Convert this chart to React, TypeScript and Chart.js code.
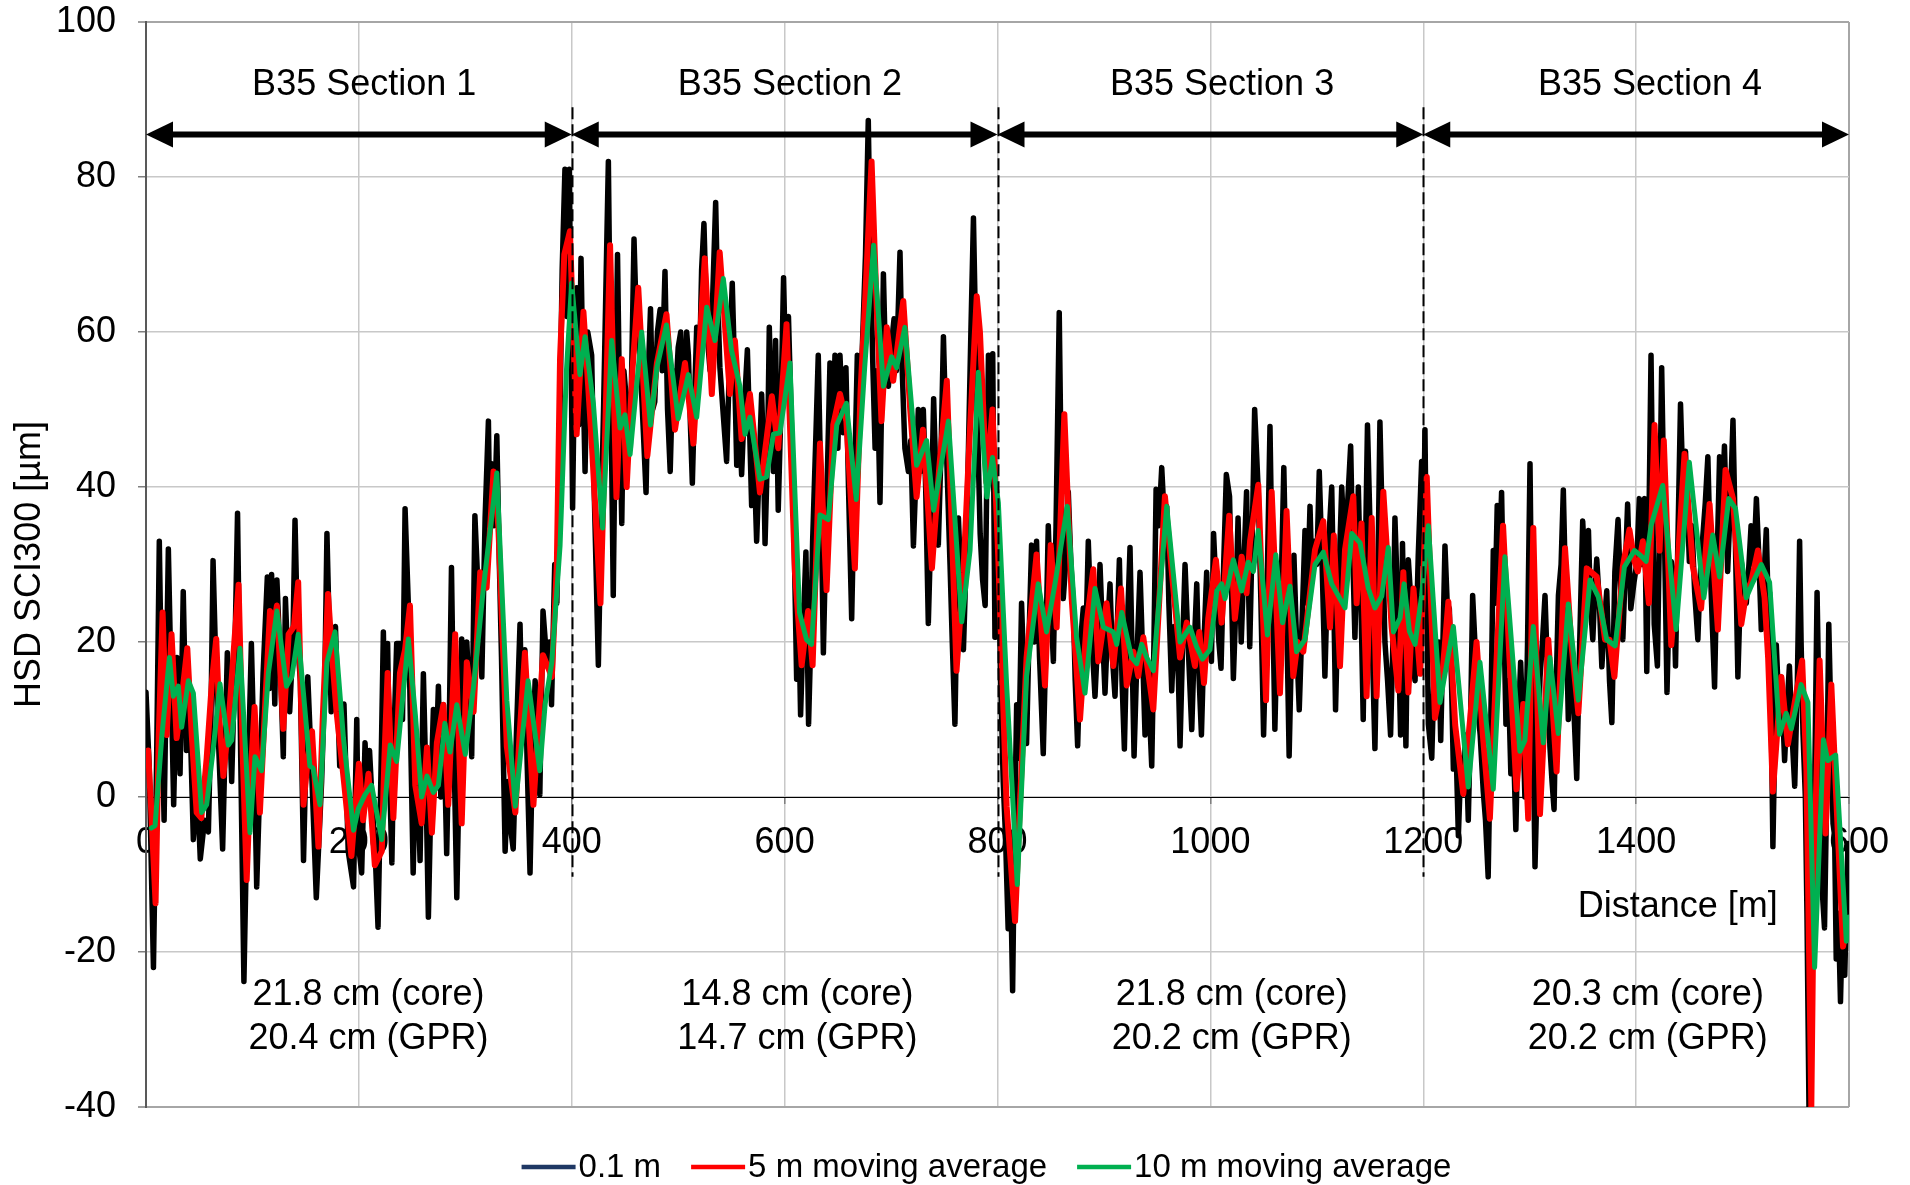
import { useEffect, useRef } from 'react';
import { Chart, registerables } from 'chart.js';

Chart.register(...registerables);

type Pt = [number, number];

// ---------------- DATA (distance [m], HSD SCI300 [µm]) ----------------
const raw01mSec1: Pt[] = [
  [0,13.5],[3,4],[7,-22],[10,5],[12.5,33],[15,10],[17,-3],[21,32],[24,12],[26,-1],[29,18],[32,3],[35,26.5],[38,6],[41,12],[44.5,-5.5],[48,2],[51,-8],[55,-3],[58.6,-4.5],[61,10],[63,30.5],[66,15],[68,7.6],[72,-6.7],[76.4,18.6],[80.5,2],[83,15],[86,36.6],[89,5],[92,-23.8],[95,-2],[99,19.8],[102,3],[104,-11.6],[107,2],[110,15.9],[114,28.4],[116,14],[118,28.7],[121,12],[123,28],[126,18],[129,5.2],[131,25.6],[135,11],[138,20],[140,35.7],[142.5,20],[145,15],[148,-8.2],[152,15.5],[156,2],[160,-13],[165,2],[168,15],[170,34],[174,11],[178,22],[182,4],[186,12],[190,-7],[195,-11.6],[198,10],
  [199.5,-6],[202.6,-9.8],[205.8,7],[208,0],[210,6],[213,-2],[215,-6],[218,-16.8],[221,5],[223,21.3],[225,8],[227,19.8],[229,2],[231,-8.5],[233,8],[235.5,19.8],[238.6,19.8],[241,10],[243.4,37.2],[246.5,24.7],[249,5],[251,-9.8],[254,7.6],[257.5,-8.2],[260.6,15.9],[263,2],[265.3,-15.5],[268,2],[270,11.3],[272,2],[274.7,14.3],[277,0],[279.4,11.9],[282.5,-7.3],[285,10],[287,29.6],[289.5,5],[292,-13],[294.5,5],[296.6,20.4],[299,10],[301.4,20],[304,12],[306,5.2],[309,36.3],[312.4,25.5],[315.5,15.5],[318.6,36],[321.7,48.5],[323,35],[325,43],[327,35],[329.6,46.6],[332,30],[334,18],[337.4,-7],[340,2],[342,-3.4],[345,-6.7],[348,8],[351.4,22.3],[353,12],[356,19],[358,5],[360.8,-9.8],[363,5],[365.6,15],[368,8],[370,0.3],[373,24],[376.6,17.4],[379,20],[381,11.9],[384,30],[386,25],[389,50],[391,68],[393.6,81],[395.5,62],[397.7,81],
];
const raw01mSec2: Pt[] = [
  [400.8,37.3],[402.5,55],[404.6,65.7],[406.5,48],[408.7,69.5],[410.5,55],[412.5,42],[415,60],[418.7,57],[421,40],[425,17],[427.5,35],[430,50.8],[432,65],[434.4,82],[436.5,55],[439,26],[441,50],[443,70],[445,50],[447,35.3],[449,55],[451.6,50.8],[455,45],[458.5,72],[461,60],[464,57],[467,48],[469.8,39.3],[472,55],[474,63],[476,50],[478,51],[480.5,60],[483,62.9],[485,55],[487.6,67.8],[490,50],[492.5,42],[495,55],[497,50],[500,58],[502.4,60],[504,52],[506.4,53],[508,60],[509.6,57],[511.5,48],[513.3,40.5],[515.5,52],[517.4,60.6],[520,55],[522,68],[524.2,74],[527,60],[530,55],[532.5,65],[535.2,76.7],[537,65],[539.2,55.4],[542,50],[545.5,43.3],[548,55],[550.8,66.3],[553,55],[555,42.8],[557,50],[559.6,41.6],[562,50],[565,57.7],[567,48],[569,37.6],[571,45],[573.7,33],[576,42],[578.4,52],[580,45],[581.6,32.7],[584,45],[585.6,60.6],[587.5,50],[589.4,42],[591.5,58.9],[594,37],[596.5,50],[599,67],
  [601,55],[603.6,62],[606,50],[608,40],[610,25],[611.3,15.2],[613,25],[615,10.6],[617.5,22],[620,31.6],[622.5,9.4],[624.5,20],[626.3,33],[629,45],[631.6,57],[634,40],[636.4,18.6],[639,35],[642.6,56],[645,45],[647.3,57],[650,45],[652,57],[655,47],[657.6,55.4],[660,40],[663,23],[665.5,40],[668.3,57],[671,50],[674,62],[676,70],[678.6,87.3],[680.5,70],[683,55],[685,45],[687,55],[689.6,38],[691,50],[692.8,67.5],[695,55],[697.5,53],[700,58],[702.8,61.7],[705,55],[708.4,70.3],[710.5,55],[713,45],[716.3,42],[718.5,46],[721,32.4],[723,40],[725.6,50],[728,42],[730.3,50],[732.5,40],[735,22.4],[737.5,35],[740,51.4],[742,42],[744.4,32.5],[747,45],[749.2,59.4],[752,45],[755.4,30],[757.5,20],[760,9.4],[763.3,36],[765.5,28],[768,19],[770,28],[772.7,45],[775,60],[777.4,74.7],[780.5,52],[783.7,34],[786,28],[788.4,24.7],[791.5,57],[793.5,50],[795.5,57.2],[797.6,20.6],[799,28],
];
const raw01mSec3: Pt[] = [
  [800.8,33],[803,15],[805.4,1.9],[807.5,-5],[810,-17],[812,-8],[814.2,-25],[816,-5],[818,11.9],[820,5],[822.6,25],[825,15],[827.3,6.9],[829.5,20],[832,32.5],[834.5,20],[836.7,33],[839.5,18],[843,5.6],[845.5,20],[847.7,35],[850,25],[852.5,17.5],[855,35],[858,62.5],[860,40],[861.8,25.6],[864,30],[866.5,39.4],[869,30],[871.2,25],[873,15],[875.3,6.6],[878,20],[880.6,24.4],[883,20],[885.3,33],[888,22],[891.6,13],[894,20],[896.3,30],[899,20],[901,13.4],[903.5,22],[905.7,27.5],[908,18],[910.4,13],[912.5,22],[914.5,30.6],[917,15],[919.2,6.2],[921.5,20],[924.5,32.2],[926.5,18],[928.3,5.3],[931,18],[933.9,29],[936,20],[938.6,8],[941.5,15],[944.9,4],[947,20],[949,39.7],[951.5,35],[954.3,42.5],[957,35],[959,37.5],[961,25],[963.7,13.7],[966,22],[968.4,20.6],[970,15],[971.5,6.6],[974,20],[976.2,30],[979,20],[982.5,8.7],[985,20],[987.2,27.5],[989.5,15],[991.6,8],[994,20],[996.5,29],[999,20],
  [1001,17.5],[1003,34],[1006,25],[1008,20],[1010,16.6],[1012.5,30],[1015,41.6],[1018,38.8],[1021.6,15.3],[1024,25],[1026,36],[1029,20],[1031.5,30],[1034,39.4],[1037,19.4],[1039.5,35],[1041.6,50],[1045,39.4],[1047.5,25],[1050,8],[1053,25],[1056,47.8],[1058,30],[1060.6,8.75],[1062.5,20],[1064.7,14.4],[1067,30],[1069,42.5],[1071.5,25],[1074,5.3],[1076,18],[1078.5,31.2],[1081,20],[1083.5,11.25],[1086,22],[1088.9,34.4],[1091,25],[1093.6,37.5],[1095.5,28],[1097.6,33],[1100,30],[1102.3,42],[1105,30],[1107.6,15.6],[1110,28],[1112,35],[1114,40],[1116,25],[1117.6,11.25],[1120,25],[1123.4,40],[1126.5,30.6],[1129,38],[1131.8,45.3],[1134,30],[1135.8,20.6],[1137.5,30],[1139,40],[1141.5,25],[1143.6,10],[1145.5,30],[1147.6,48],[1150,35],[1152,20],[1154.6,6.25],[1157,25],[1159.3,48.4],[1161.5,35],[1164,20],[1166.5,15],[1169.3,8],[1171.5,20],[1173.4,36],[1176,25],[1178.7,8],[1180.5,32.7],[1183.7,6.6],[1186,30.6],[1188.5,25],[1190,18],[1192.3,15],[1195.3,31.2],[1198.5,43.3],
];
const raw01mSec4: Pt[] = [
  [1200,30],[1201.6,47.4],[1203,30],[1204.8,9.4],[1208,5],[1210,15],[1212.6,14],[1214.5,20],[1216.4,7.3],[1218.5,20],[1220.4,32.4],[1222.5,25],[1224.5,24.3],[1226.5,15],[1228.3,3.6],[1230.5,8],[1233,-5],[1235.5,5],[1237.6,3.6],[1240,8],[1242.3,-3],[1244.5,10],[1246.4,26],[1248.5,20],[1250.8,12.2],[1253.5,8],[1256.4,0.7],[1258.5,-3],[1261,-10.3],[1263.5,10],[1265.8,31.8],[1267.5,25],[1269.5,37.6],[1271.5,30],[1273.6,39.3],[1275.5,25],[1277.7,9.4],[1280,15],[1282.3,3],[1284.5,8],[1287,-4.2],[1289,8],[1291.5,17.4],[1293.5,10],[1295.5,0],[1298,20],[1300.3,43],[1302.5,15],[1305,-9],[1307.5,5],[1309.7,15.4],[1312,20],[1314.4,26],[1317,15],[1319,6.5],[1321,2],[1322.9,-1.6],[1325,15],[1327,26],[1329.5,30],[1331.6,39.6],[1334,25],[1336.3,10],[1338.5,20],[1340.4,15],[1342.5,8],[1344.2,2.4],[1347,20],[1349.8,35.6],[1352.5,28],[1355.2,34.4],[1357,25],[1359.3,20.3],[1361,26],[1363,30.7],[1365.5,25],[1367.8,16.8],[1370,22],[1372.4,26.6],[1375,15],[1377.2,9.6],[1380,29],[1383,35.8],[1385,28],[1387.5,20.3],[1390,30],[1392,37.8],[1395,24.3],[1398,27.7],
  [1400.5,30],[1403,38.5],[1405.5,30],[1408,38.5],[1410,16.2],[1412,35],[1414,57],[1417,22.3],[1420,16.9],[1422,35],[1424,55.4],[1426.5,35],[1429,13.5],[1431,25],[1433,30.4],[1435,28],[1437,16.9],[1439.5,35],[1441.7,50.7],[1444,40],[1446.4,44.6],[1448,38],[1450,30.4],[1452.5,35],[1455,26.4],[1458,20.3],[1460,28],[1462,32.4],[1465,38],[1467.4,43.9],[1469,35],[1470.5,26.4],[1473.7,14.2],[1476,30],[1478.4,43.9],[1481,38],[1483,45.3],[1486,29.1],[1488.5,38],[1491,48.6],[1493,35],[1495.6,15.5],[1498.8,30.4],[1501,28],[1503.5,25],[1506,30],[1508,35],[1510.5,30],[1513,38.5],[1515,32],[1517.6,21.6],[1520,28],[1522.3,34.5],[1524,25],[1525.4,26.4],[1527,10],[1528.5,-6.4],[1530,5],[1531.7,19.6],[1534,12],[1536.4,15.5],[1538,10],[1539.5,4.7],[1542,12],[1544,16.9],[1546.5,8],[1549,1.4],[1551.5,15],[1553.6,33],[1555,20],[1556.8,8.1],[1559,0],[1560.5,-15],[1562.4,-40],[1564.5,-25],[1566.8,-10.1],[1568.5,10],[1570,26.4],[1572,10],[1574,-10.1],[1577,-16.9],[1579,0],[1581,22.3],[1583,10],[1585,-3.4],[1586.5,-5],[1588,-20.9],[1590,-15],[1592,-26.4],[1594,-15],[1596,-23],[1598,-12],[1599,-6],[1600,-12],
];

const avg5mSec1: Pt[] = [
  [2,6],[5,-2],[9,-13.7],[12,8],[15.6,23.8],[19.4,8],[24,21],[28.8,7.6],[33,12],[38.8,19.2],[43,8],[47.6,-2],[52,-2.7],[57,5],[62,15],[66,20.4],[69,10],[72.7,2.7],[78,10.4],[83,20],[87,27.4],[91,5],[94.6,-10.7],[98,2],[102,11.6],[107,-2],[112,12],[116.5,24],[120,22],[123,24.7],[129,8.8],[134,21],[139,22],[143,27.7],[148,-1],[152,5],[156,8.5],[162,-6.4],[166,10],[171,26.2],[175,18],[179,11],[186,2],[193,-7.6],[200,4.3],
  [204,-3],[209,3],[215,-8.8],[221.5,-7],[224,5],[227,16],[232.4,-2.7],[238.6,16],[243.4,19],[248,24.7],[253,1.5],[259,-3.4],[264,6.4],[268.6,-4.6],[273.3,7],[279.4,11.9],[284,-1],[290.5,21],[296.6,-3.4],[301.4,17.4],[307.8,11],[314,29],[320,27],[326.5,42],[331,35],[339,6.5],[347,-2],[351,8],[356,18.6],[364,-1],[368,8],[373,18.3],[381.3,15.5],[386,30],[389,56.6],[393,70],[398.3,73],
];
const avg5mSec2: Pt[] = [
  [404.6,46.8],[411,62.6],[418.7,46],[427,25],[431,45],[436,71.2],[442,38.7],[447,56.5],[451.6,40],[457,55],[462.5,65.7],[471,44],[480,56],[489,62.3],[497,47.4],[506.4,56],[514.3,45.6],[525,69.5],[531.6,52],[539,70.3],[548.6,52],[553.3,58.9],[559.6,46.2],[567.4,52],[576.8,39.3],[588,51.7],[594,45],
  [601.8,61],[609.7,29],[616,17],[622,24],[626.3,17],[633.2,45.6],[639.4,26.7],[645.7,48],[652,52],[658,48.5],[666,29.5],[671.4,52.5],[676,65],[681.7,82],[686,65],[691,48.5],[696,60.6],[702,53.7],[711.5,64],[718,50],[724,38.7],[730,47.4],[738.4,29.5],[745,42],[752.4,53.7],[757,35],[761.5,16.3],[768,29],[774,47],[780.5,64.6],[783.5,60],[789.6,40.6],[795.3,50],
];
const avg5mSec3: Pt[] = [
  [800.8,30.6],[808.6,-1.25],[816.5,-16],[821,-1.25],[827.3,18],[836.7,31.3],[844.6,14.4],[850,32.5],[855.6,21.9],[862.8,49.4],[869.7,25.6],[877.5,10],[883.8,22.5],[890,29.4],[894.7,17.5],[902.5,25],[908.8,16.9],[916,26.9],[921.4,14.4],[927.6,18.75],[932.3,15.6],[937,20.6],[946.4,11.3],[957.3,38.8],[965.2,26.9],[971.5,18],[977.8,22.5],[985.5,16.9],[989.6,21.3],[994,14.7],[998,23],
  [1005.2,30.6],[1010.6,22.5],[1017.7,36.3],[1023,23],[1029.4,31],[1034,26.3],[1037.3,33],[1045,40.3],[1052.3,12.5],[1057.6,39.4],[1065.4,13.4],[1071.6,36.9],[1077.9,15.6],[1082,20],[1087.3,18.75],[1098.3,31.9],[1106.1,35.6],[1112.4,21.9],[1116,33.75],[1121.8,16.9],[1126.5,31.9],[1134.3,38.8],[1137.4,25],[1142,35.3],[1146.8,13],[1151.6,36],[1156.2,13],[1162.5,39.4],[1170.3,21.9],[1176.6,13.75],[1181.3,29],[1186,13.5],[1190.8,26.9],[1197,15.9],
];
const avg5mSec4: Pt[] = [
  [1203.3,41.3],[1211,10.2],[1217.3,14.6],[1223.6,25.2],[1230,9.3],[1237.6,0.4],[1244,10],[1250.1,20],[1256,8],[1262.6,-2.8],[1269,18],[1275,35],[1281,18],[1287.6,1],[1294,12],[1298.6,-2.8],[1303.4,34.7],[1309.7,-2.2],[1317.5,20.3],[1325.3,3.3],[1333.2,32.1],[1339,20],[1345.7,10.8],[1353.6,29.5],[1363,28.4],[1370.8,20.3],[1375,20.3],[1379.6,15.5],[1387.5,29.7],[1393.7,34.5],[1398.4,30.4],
  [1401.6,29.1],[1406.3,33],[1412,25],[1417.3,48],[1422,31.8],[1426,46],[1433,19.6],[1439,30],[1445.5,44.3],[1453.3,29.7],[1461,24.3],[1469,37.8],[1476.8,21.6],[1484,42.2],[1491,38.5],[1498.8,22.3],[1503.5,26.4],[1508,27.7],[1514.4,31.8],[1520.7,25.7],[1524,18],[1528.5,0.7],[1536.4,15.5],[1542.6,6.8],[1549,12.2],[1556,17.6],[1560,3.4],[1562.5,-20],[1564.6,-40],[1567,-10],[1572.4,17.6],[1578,-4.7],[1583.4,14.5],[1588,0],[1594.4,-19.3],[1597,-17],[1600,-17],
];

const avg10mSec1: Pt[] = [
  [5,-4],[8.5,-3.7],[15,8],[22,18],[25.7,13],[30.4,14.3],[33.5,9],[39.8,15],[44.5,13.4],[52.3,-2],[57,-1],[63,6],[69.5,14.6],[77.4,6.7],[80.5,7.3],[88.3,19.2],[97.7,-4.6],[102.4,5.2],[108.7,3.4],[115,16],[123,24],[132,14.3],[137,15.5],[143,21],[154,4],[157,3.7],[163.5,-1],[170,17.4],[177.6,21.3],[185.5,7.6],[195,-4.3],[199.5,-1.5],
  [205.8,0.3],[212,1.5],[221.5,-5.5],[229.5,6.7],[235.5,4.6],[246.5,20.4],[253,10.7],[259,0],[264,2.7],[270,0.6],[274.7,1.5],[280.8,9.5],[285.6,5.8],[292,11.9],[300,5.5],[307.8,14.3],[317,27],[329.6,41.8],[339,12.5],[347,-1.2],[353,7],[359,15],[370,3.4],[375,12],[381.3,17.4],[389,32.4],[395,55],[399.9,66.3],
];
const avg10mSec2: Pt[] = [
  [407.7,54.5],[412.5,59.4],[420.3,50.8],[429,34.7],[437.5,58.9],[445.4,47.6],[450,49.3],[454.8,44.2],[465.7,60],[474,48],[480,55.4],[489,60.9],[500,48.8],[509.6,54.5],[517.4,49],[526.8,63.2],[534.6,58.9],[542.4,66.9],[550,57.7],[558,53],[562.8,46.8],[567.4,49],[576.8,41],[583,41.3],[589.4,46.8],[595.6,47],
  [605,56],[614,23.8],[620.6,20.3],[625.3,19.7],[633.2,36.4],[641,35.8],[649,48],[658,50.8],[667.3,38.4],[675.2,55.4],[683.6,71.2],[692.8,53],[700.5,56.8],[705.2,55.4],[713,60.6],[724,42.8],[733.4,46],[740,37],[753.9,48.5],[766.4,22.6],[774.2,31.8],[782,54.8],[790,38.7],[795.3,43.8],
];
const avg10mSec3: Pt[] = [
  [800.8,38],[808.6,14.4],[818.6,-11.3],[827.3,15.6],[838.3,27.5],[846.1,21.3],[854,27.5],[865.6,37.5],[874.3,20.6],[882.2,13.4],[891.6,26.9],[899.5,21.9],[908.8,21.3],[912,19.7],[916.7,23.8],[926,18],[930.8,17.2],[935.5,19.7],[940.2,18],[946.4,16.3],[959,37.5],[971.5,20],[980.9,21.9],[987,19.4],[992.5,17.8],[999.6,19],
  [1006,26.6],[1010.6,27.5],[1013.8,25.6],[1021.6,30.6],[1029.4,26.6],[1035.6,30.3],[1040.4,29.1],[1045,34.4],[1053.6,20.9],[1061.5,31.25],[1067.8,22.5],[1074.8,27.2],[1081,18.75],[1088.9,20.3],[1098.3,30],[1106.1,31.6],[1114,27.5],[1126.5,24.4],[1132.8,34],[1140.6,32.8],[1148.4,26.9],[1154.6,24.4],[1161,25.9],[1167.2,32.2],[1172,21.3],[1178.2,23.1],[1182,27.5],[1187,21.4],[1192.3,19.7],[1198.5,26],
];
const avg10mSec4: Pt[] = [
  [1204.8,35],[1215.7,12.2],[1228.3,22],[1242.3,1.3],[1253.3,17.4],[1265.8,1],[1276.7,31],[1290.8,5.9],[1295.5,7.3],[1303.4,22],[1312.8,7],[1319,18],[1326.9,8.2],[1336.3,24.9],[1345.7,12.5],[1356.7,28],[1364.6,25.8],[1372.4,20.3],[1380.3,19.5],[1389,29.7],[1398.4,31.8],
  [1404.7,31.1],[1409.4,30.4],[1414,35],[1425,40.2],[1437.6,21.6],[1450,43.2],[1463.6,25.7],[1472,33.8],[1478.4,28.4],[1487,38.5],[1493.4,37.2],[1503.5,25.7],[1509.7,27.7],[1517.6,30],[1525.4,27.7],[1534.8,8.1],[1541,10.8],[1545.8,8.8],[1555,14.5],[1561.4,12.2],[1567.7,-22],[1576,7.4],[1580,4.7],[1587.5,5.4],[1597.5,-18.6],[1600,-15.5],
];

const seriesLabels = ['0.1 m', '5 m moving average', '10 m moving average'];

// section annotations
const sectionEdges = [0, 400, 800, 1200, 1600];
const sectionTitles = ['B35 Section 1', 'B35 Section 2', 'B35 Section 3', 'B35 Section 4'];
const sectionTitleAt = [205, 605, 1011, 1413];
const coreLabels = ['21.8 cm (core)', '14.8 cm (core)', '21.8 cm (core)', '20.3 cm (core)'];
const gprLabels = ['20.4 cm (GPR)', '14.7 cm (GPR)', '20.2 cm (GPR)', '20.2 cm (GPR)'];
const thicknessLabelAt = [209, 612, 1020, 1411];
const titleLevel = 91.8;
const arrowLevel = 85.5;
const coreLevel = -25.5;
const gprLevel = -31.3;
const dividerTop = 89;
const dividerBottom = -10.3;
const distanceTitleAt: Pt = [1533, -14.2];

// ---------------- STYLE ----------------
const FONT = '"Liberation Sans", Arial, Helvetica, sans-serif';
const lineColors = ['#000000', '#ff0000', '#00b050'];
const legendColors = ['#1f3864', '#ff0000', '#00b050'];

const toXY = (pts: Pt[]) => pts.map(([x, y]) => ({ x, y }));

const sectionPlugin = {
  id: 'sectionAnnotations',
  afterDatasetsDraw(chart: any) {
    const { ctx } = chart;
    const xs = chart.scales.x;
    const ys = chart.scales.y;
    const X = (v: number) => xs.getPixelForValue(v);
    const Y = (v: number) => ys.getPixelForValue(v);
    ctx.save();
    ctx.strokeStyle = '#000';
    ctx.lineWidth = 2;
    ctx.setLineDash([12, 5]);
    sectionEdges.slice(1, -1).forEach((e) => {
      const px = Math.round(X(e)) + 0.5;
      ctx.beginPath();
      ctx.moveTo(px, Y(dividerTop));
      ctx.lineTo(px, Y(dividerBottom));
      ctx.stroke();
    });
    ctx.setLineDash([]);
    const ay = Y(arrowLevel);
    const hl = 27;
    const hw = 13;
    ctx.fillStyle = '#000';
    for (let i = 0; i < sectionTitles.length; i++) {
      const x1 = X(sectionEdges[i]);
      const x2 = X(sectionEdges[i + 1]);
      ctx.lineWidth = 6;
      ctx.beginPath();
      ctx.moveTo(x1 + hl - 2, ay);
      ctx.lineTo(x2 - hl + 2, ay);
      ctx.stroke();
      ctx.beginPath();
      ctx.moveTo(x1, ay);
      ctx.lineTo(x1 + hl, ay - hw);
      ctx.lineTo(x1 + hl, ay + hw);
      ctx.closePath();
      ctx.fill();
      ctx.beginPath();
      ctx.moveTo(x2, ay);
      ctx.lineTo(x2 - hl, ay - hw);
      ctx.lineTo(x2 - hl, ay + hw);
      ctx.closePath();
      ctx.fill();
    }
    ctx.font = `36px ${FONT}`;
    ctx.textAlign = 'center';
    ctx.textBaseline = 'middle';
    ctx.fillStyle = '#000';
    for (let i = 0; i < sectionTitles.length; i++) {
      ctx.fillText(sectionTitles[i], X(sectionTitleAt[i]), Y(titleLevel));
      ctx.fillText(coreLabels[i], X(thicknessLabelAt[i]), Y(coreLevel));
      ctx.fillText(gprLabels[i], X(thicknessLabelAt[i]), Y(gprLevel));
    }
    ctx.textAlign = 'right';
    ctx.fillText('Distance [m]', X(distanceTitleAt[0]), Y(distanceTitleAt[1]));
    ctx.restore();
  },
  afterDraw(chart: any) {
    const { ctx, chartArea } = chart;
    ctx.save();
    ctx.font = `33px ${FONT}`;
    ctx.textBaseline = 'middle';
    ctx.textAlign = 'left';
    const sample = 54;
    const gapText = 3;
    const gapItem = 30;
    const labels: string[] = chart.data.datasets.map((d: any) => d.label);
    const widths = labels.map((l) => sample + gapText + ctx.measureText(l).width);
    const total = widths.reduce((a, b) => a + b, 0) + gapItem * (labels.length - 1);
    let x = (chartArea.left + chartArea.right) / 2 - 11 - total / 2;
    const y = 1167;
    labels.forEach((l, i) => {
      ctx.strokeStyle = legendColors[i];
      ctx.lineWidth = 4.5;
      ctx.beginPath();
      ctx.moveTo(x, y);
      ctx.lineTo(x + sample, y);
      ctx.stroke();
      ctx.fillStyle = '#000';
      ctx.fillText(l, x + sample + gapText, y + 1);
      x += widths[i] + gapItem;
    });
    ctx.restore();
  },
};

export default function App() {
  const ref = useRef<HTMLCanvasElement | null>(null);

  useEffect(() => {
    if (!ref.current) return;
    Chart.defaults.font.family = FONT;
    const trace01 = [...raw01mSec1, ...raw01mSec2, ...raw01mSec3, ...raw01mSec4];
    const trace5 = [...avg5mSec1, ...avg5mSec2, ...avg5mSec3, ...avg5mSec4];
    const trace10 = [...avg10mSec1, ...avg10mSec2, ...avg10mSec3, ...avg10mSec4];
    const edgeY = (v: number) => v === 100 || v === -40;

    const chart = new Chart(ref.current, {
      type: 'line',
      data: {
        datasets: [
          { label: seriesLabels[0], data: toXY(trace01), borderColor: lineColors[0], borderWidth: 5.5, order: 3 },
          { label: seriesLabels[1], data: toXY(trace5), borderColor: lineColors[1], borderWidth: 6, order: 2 },
          { label: seriesLabels[2], data: toXY(trace10), borderColor: lineColors[2], borderWidth: 5, order: 1 },
        ],
      },
      options: {
        animation: false,
        responsive: false,
        maintainAspectRatio: false,
        devicePixelRatio: 1,
        elements: {
          point: { radius: 0, hoverRadius: 0 },
          line: { tension: 0, borderJoinStyle: 'round', borderCapStyle: 'round', fill: false },
        },
        layout: { padding: { left: 0, right: 61, top: 22, bottom: 78 } },
        plugins: {
          legend: { display: false },
          tooltip: { enabled: false },
        },
        scales: {
          x: {
            type: 'linear',
            min: 0,
            max: 1600,
            position: { y: 0 } as any,
            ticks: {
              stepSize: 200,
              autoSkip: false,
              maxRotation: 0,
              padding: 18,
              color: '#000',
              font: { size: 36, family: FONT },
              callback: (v: any) => String(v),
            },
            grid: {
              color: (c: any) => (c.tick && c.tick.value === 1600 ? '#a6a6a6' : '#c8c8c8'),
              lineWidth: (c: any) => (c.tick && c.tick.value === 1600 ? 2 : 1.5),
              tickLength: 6,
              tickColor: '#7f7f7f',
              tickWidth: 1.5,
            },
            border: { display: true, color: '#000', width: 1 },
          },
          y: {
            type: 'linear',
            min: -40,
            max: 100,
            ticks: {
              stepSize: 20,
              padding: 22,
              color: '#000',
              font: { size: 36, family: FONT, lineHeight: 0 },
            },
            grid: {
              color: (c: any) => (c.tick && edgeY(c.tick.value) ? '#a6a6a6' : '#c8c8c8'),
              lineWidth: (c: any) => (c.tick && edgeY(c.tick.value) ? 2 : 1.5),
              tickLength: 8,
              tickColor: '#7f7f7f',
              tickWidth: 1.5,
            },
            border: { display: true, color: '#595959', width: 2 },
            title: {
              display: true,
              text: 'HSD SCI300 [µm]',
              color: '#000',
              font: { size: 36, family: FONT },
              padding: { top: 8, bottom: 0 },
            },
            afterFit: (s: any) => {
              s.width = 146;
            },
          },
        },
      },
      plugins: [sectionPlugin],
    } as any);

    return () => chart.destroy();
  }, []);

  return (
    <div style={{ position: 'fixed', left: 0, top: 0, width: 1910, height: 1185, overflow: 'hidden', background: '#fff' }}>
      <canvas ref={ref} width={1910} height={1185} style={{ display: 'block', width: 1910, height: 1185 }} />
    </div>
  );
}
